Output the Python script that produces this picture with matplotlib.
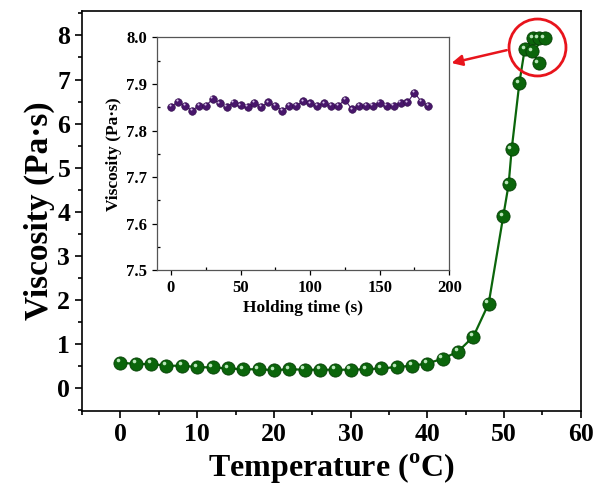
import matplotlib
matplotlib.use('Agg')
import matplotlib.pyplot as plt
from matplotlib.ticker import MultipleLocator
from matplotlib.transforms import offset_copy

plt.rcParams['font.family'] = 'Liberation Serif'
plt.rcParams['font.weight'] = 'bold'
plt.rcParams['mathtext.fontset'] = 'custom'
plt.rcParams['mathtext.rm'] = 'Liberation Serif:bold'
plt.rcParams['mathtext.bf'] = 'Liberation Serif:bold'

# main curve: viscosity vs temperature
temp = [0, 2, 4, 6, 8, 10, 12, 14, 16, 18, 20, 22, 24, 26, 28, 30, 32, 34, 36, 38, 40,
        42, 44, 46, 48, 49.9, 50.6, 51.0, 52.0, 52.7, 53.8, 54.5, 55.3, 53.7, 54.5]
visc = [0.58, 0.55, 0.55, 0.51, 0.51, 0.48, 0.47, 0.45, 0.43, 0.43, 0.41, 0.43, 0.42, 0.42, 0.42, 0.42, 0.43, 0.45, 0.48, 0.51, 0.56,
        0.67, 0.83, 1.17, 1.92, 3.90, 4.62, 5.42, 6.92, 7.69, 7.94, 7.94, 7.94, 7.64, 7.37]

# inset: viscosity vs holding time
hold_t = list(range(0, 190, 5))
hold_v = [7.851, 7.862, 7.853, 7.843, 7.853, 7.853, 7.868, 7.859, 7.851, 7.860,
          7.854, 7.851, 7.860, 7.851, 7.861, 7.853, 7.843, 7.853, 7.853, 7.863,
          7.859, 7.853, 7.859, 7.853, 7.853, 7.866, 7.846, 7.853, 7.853, 7.853,
          7.860, 7.853, 7.853, 7.860, 7.861, 7.881, 7.862, 7.853]

green = '#0b650b'
purple = '#48166b'

fig = plt.figure(figsize=(5.95, 4.86), dpi=100)
ax = fig.add_axes([0.138, 0.154, 0.838, 0.823])

ax.plot(temp, visc, '-', color=green, lw=1.6, zorder=2)
ax.plot(temp, visc, 'o', color=green, ms=9.5, mec='#064006', mew=0.6, zorder=3)
hl = offset_copy(ax.transData, fig=fig, x=-1.6, y=1.8, units='points')
ax.plot(temp, visc, 'o', color='#b9e6b9', ms=2.6, mew=0, transform=hl, zorder=4)

# red circle + arrow pointing at the inset
ax.plot([54.3], [7.73], 'o', ms=41, mfc='none', mec='#e8141c', mew=2, zorder=5, clip_on=False)
ax.annotate('', xy=(42.8, 7.36), xytext=(50.7, 7.68),
            arrowprops=dict(arrowstyle='-|>', color='#e8141c', lw=1.8, mutation_scale=16), zorder=5)

ax.set_xlim(-5, 60)
ax.set_ylim(-0.52, 8.55)
ax.xaxis.set_major_locator(MultipleLocator(10))
ax.xaxis.set_minor_locator(MultipleLocator(5))
ax.yaxis.set_major_locator(MultipleLocator(1))
ax.yaxis.set_minor_locator(MultipleLocator(0.5))
ax.tick_params(which='both', direction='out', width=1.2, labelsize=18.5)
ax.tick_params(which='major', length=5)
ax.tick_params(which='minor', length=3)
for s in ax.spines.values():
    s.set_linewidth(1.2)
ax.set_xlabel(r'Temperature ($^{\mathrm{o}}$C)', fontsize=23, fontweight='bold', labelpad=4)
ax.set_ylabel('Viscosity (Pa·s)', fontsize=24, fontweight='bold', labelpad=2)

# inset
ins = fig.add_axes([0.264, 0.444, 0.491, 0.479])
ins.plot(hold_t, hold_v, '-', color=purple, lw=0.8, zorder=2)
ins.plot(hold_t, hold_v, 'o', color=purple, ms=5.5, mec='#2e0c47', mew=0.4, zorder=3)
hl2 = offset_copy(ins.transData, fig=fig, x=-0.9, y=1.0, units='points')
ins.plot(hold_t, hold_v, 'o', color='#d9c3ea', ms=1.5, mew=0, transform=hl2, zorder=4)
ins.set_xlim(-10, 200)
ins.set_ylim(7.5, 8.0)
ins.xaxis.set_major_locator(MultipleLocator(50))
ins.xaxis.set_minor_locator(MultipleLocator(25))
ins.yaxis.set_major_locator(MultipleLocator(0.1))
ins.yaxis.set_minor_locator(MultipleLocator(0.05))
ins.tick_params(which='major', direction='out', length=3.5, width=0.9, labelsize=12)
ins.tick_params(which='minor', direction='in', length=2.5, width=0.9)
for s in ins.spines.values():
    s.set_linewidth(0.9)
    s.set_color('#555555')
ins.set_xlabel('Holding time (s)', fontsize=12.5, fontweight='bold', labelpad=3)
ins.set_ylabel('Viscosity (Pa·s)', fontsize=12.5, fontweight='bold', labelpad=3)

fig.savefig('out.png', dpi=100)
